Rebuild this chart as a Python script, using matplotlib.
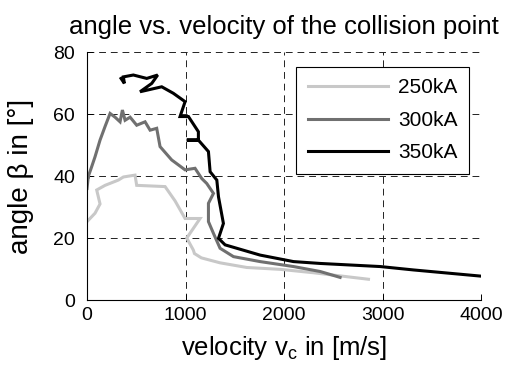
import matplotlib
matplotlib.use("Agg")
import matplotlib.pyplot as plt

plt.rcParams['font.family'] = ['Liberation Sans', 'DejaVu Sans']
plt.rcParams['mathtext.fontset'] = 'custom'
plt.rcParams['mathtext.rm'] = 'Liberation Sans'
plt.rcParams['mathtext.it'] = 'Liberation Sans'

labels = ["250kA", "300kA", "350kA"]
colors = ["#c8c8c8", "#707070", "#000000"]

x250 = [0, 81, 132, 98, 183, 318, 369, 487, 504, 792, 893, 995, 1147, 1012, 1079,
        1090, 1160, 1350, 1621, 1960, 2298, 2856]
y250 = [25.3, 28, 31, 35.5, 37, 38.7, 39.7, 40.3, 37, 36.6, 32, 26.3, 26.3, 20, 16.1,
        15.0, 13.6, 12, 10.5, 9.9, 8.8, 6.7]

x300 = [0, 14, 0, 47, 81, 132, 183, 234, 284, 335, 359, 386, 437, 504, 589, 640, 707,
        741, 859, 995, 1096, 1164, 1215, 1283, 1232, 1232, 1283, 1350, 1486, 1756,
        2095, 2366, 2568]
y300 = [36, 40.3, 38.7, 43, 46.2, 51.6, 56, 60.2, 59, 57.5, 61.3, 58, 59, 56.4, 57.5,
        54.8, 55.4, 49.5, 45.2, 42, 42.5, 39.2, 37.6, 34.4, 31.2, 25.3, 21.5, 16.7, 14,
        12.4, 10.8, 9.2, 7.3]

x350 = [345, 379, 369, 470, 606, 717, 657, 538, 758, 876, 995, 944, 1029, 1130, 1130,
        1012, 1130, 1232, 1249, 1317, 1334, 1384, 1334, 1401, 1756, 2095, 2366, 2975,
        3314, 4000]
y350 = [71.5, 69.9, 72, 72.6, 71.5, 72.6, 69.9, 67.2, 68.8, 66.7, 64, 59.2, 59.2, 54.3,
        51.6, 51.6, 51.6, 47.9, 41.4, 38.7, 33.3, 24.7, 19.9, 17.8, 14.5, 12.4, 11.8,
        10.8, 9.7, 7.7]

fig = plt.figure(figsize=(5.06, 3.72), dpi=100)
ax = fig.add_axes([0.172, 0.1935, 0.779, 0.6665])

for xs, ys, c, lab in zip([x250, x300, x350], [y250, y300, y350], colors, labels):
    ax.plot(xs, ys, color=c, lw=2.2, label=lab, solid_joinstyle='miter')

ax.set_xlim(0, 4000)
ax.set_ylim(0, 80)
ax.set_xticks([0, 1000, 2000, 3000, 4000])
ax.set_yticks([0, 20, 40, 60, 80])
ax.grid(True, color='#222222', linestyle=(0, (7, 5)), lw=0.7)
ax.tick_params(direction='in', length=4, labelsize=14, width=0.7)
ax.tick_params(axis='y', pad=8.5)
ax.tick_params(axis='x', pad=5)
for s in ['top', 'right']:
    ax.spines[s].set_visible(False)
for s in ['left', 'bottom']:
    ax.spines[s].set_linewidth(0.8)

ax.set_title("angle vs. velocity of the collision point", fontsize=18.5, pad=13)
ax.set_xlabel(r"velocity v$_{\mathregular{c}}$ in [m/s]", fontsize=18.5, labelpad=7)
ax.set_ylabel("angle β in [°]", fontsize=20, labelpad=14)

leg = ax.legend(loc='upper right', bbox_to_anchor=(0.9695, 0.94), fontsize=15,
                fancybox=False, framealpha=1, edgecolor='black', handlelength=3.85,
                borderpad=0.55, labelspacing=0.65, handletextpad=0.5, borderaxespad=0)
leg.get_frame().set_linewidth(0.8)

fig.savefig("out.png", dpi=100)
